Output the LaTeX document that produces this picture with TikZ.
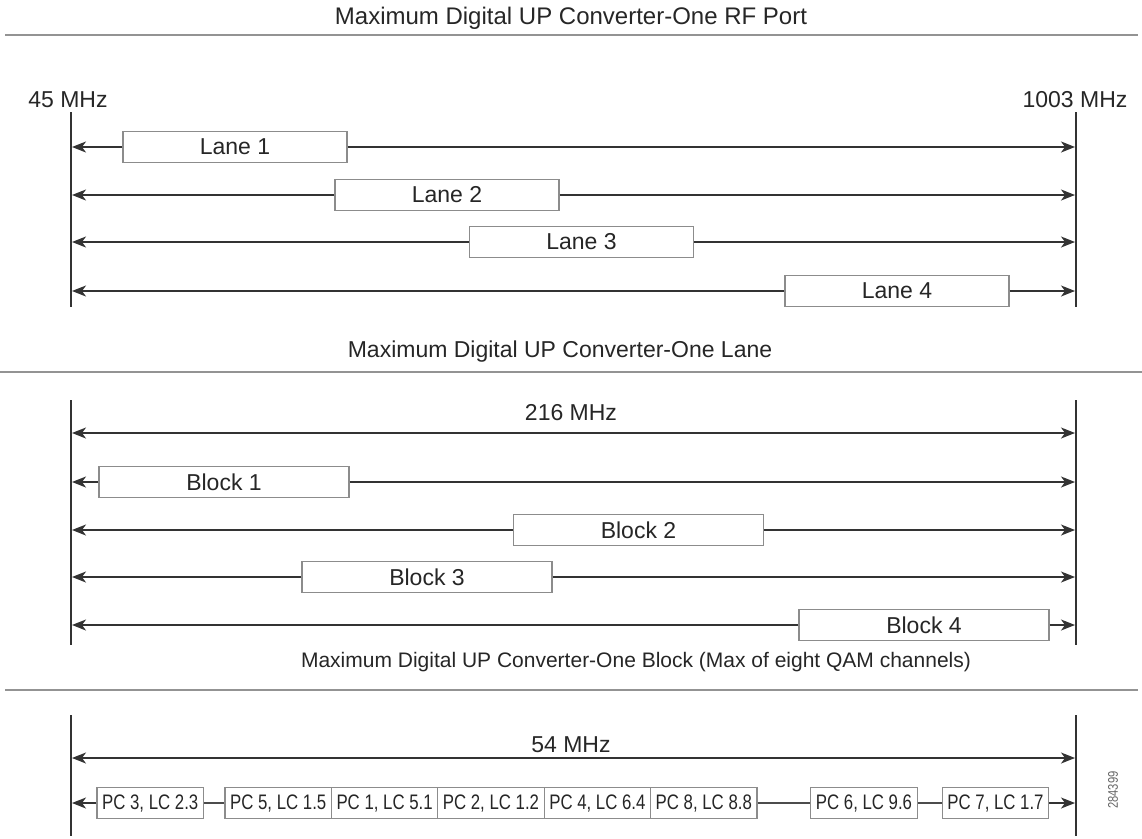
\documentclass[tikz,border=0pt]{standalone}
\usepackage{fontspec}
\setmainfont{Liberation Sans}
\newfontfamily\narrowfont[FakeStretch=0.8]{Liberation Sans}
\usepackage{tikz}
\usetikzlibrary{arrows.meta}

\begin{document}
\begin{tikzpicture}[
    x=1pt, y=-1pt,
    title/.style={font=\fontsize{23}{27}\selectfont, text=black!85},
    freq/.style={font=\fontsize{23}{27}\selectfont, text=black!85},
    rule/.style={draw=gray!85, line width=2.5pt},
    edge/.style={draw=black!80, line width=1.8pt},
    lane/.style={rectangle, draw=gray!90, fill=white, line width=1.2pt, inner sep=0pt, minimum width=224pt, minimum height=31pt, font=\fontsize{23}{27}\selectfont, text=black!85},
    block/.style={lane, minimum width=250pt},
    chan/.style={rectangle, draw=gray!90, fill=white, line width=1.2pt, inner sep=0pt, minimum width=106.4pt, minimum height=31pt, font=\narrowfont\fontsize{21}{25}\selectfont, text=black!85},
    arrow/.style={draw=black!80, line width=1.5pt, ->, >={Stealth[length=14pt, width=11pt, inset=4pt]}},
    link/.style={draw=black!70, line width=1.5pt}
]
\useasboundingbox (0,0) rectangle (1142,838);

% --- one RF port ---
\node[title, font=\fontsize{24}{28}\selectfont] (port_title) at (571,18) {Maximum Digital UP Converter-One RF Port};
\coordinate (port_rule_l) at (5,35);
\coordinate (port_rule_r) at (1138,35);
\draw[rule] (port_rule_l) -- (port_rule_r);

\node[freq] (f_low) at (68,100) {45 MHz};
\node[freq] (f_high) at (1075,100) {1003 MHz};
\coordinate (port_lt) at (71,112);
\coordinate (port_lb) at (71,307);
\coordinate (port_rt) at (1076,112);
\coordinate (port_rb) at (1076,307);
\draw[edge] (port_lt) -- (port_lb);
\draw[edge] (port_rt) -- (port_rb);

\node[lane] (lane1) at (235,147) {Lane 1};
\node[lane] (lane2) at (447,195) {Lane 2};
\node[lane] (lane3) at (581.5,242) {Lane 3};
\node[lane] (lane4) at (897,291) {Lane 4};

\coordinate (l1_l) at (72,147);  \coordinate (l1_r) at (1075,147);
\coordinate (l2_l) at (72,195);  \coordinate (l2_r) at (1075,195);
\coordinate (l3_l) at (72,242);  \coordinate (l3_r) at (1075,242);
\coordinate (l4_l) at (72,291);  \coordinate (l4_r) at (1075,291);

\draw[arrow] (lane1.west) -- (l1_l);
\draw[arrow] (lane1.east) -- (l1_r);
\draw[arrow] (lane2.west) -- (l2_l);
\draw[arrow] (lane2.east) -- (l2_r);
\draw[arrow] (lane3.west) -- (l3_l);
\draw[arrow] (lane3.east) -- (l3_r);
\draw[arrow] (lane4.west) -- (l4_l);
\draw[arrow] (lane4.east) -- (l4_r);

% --- one lane ---
\node[title] (lane_title) at (560,352) {Maximum Digital UP Converter-One Lane};
\coordinate (lane_rule_l) at (0,372);
\coordinate (lane_rule_r) at (1142,372);
\draw[rule] (lane_rule_l) -- (lane_rule_r);

\coordinate (lane_lt) at (71,400);
\coordinate (lane_lb) at (71,645);
\coordinate (lane_rt) at (1076,400);
\coordinate (lane_rb) at (1076,645);
\draw[edge] (lane_lt) -- (lane_lb);
\draw[edge] (lane_rt) -- (lane_rb);

\node[freq] (w_lane) at (571,413) {216 MHz};
\coordinate (wl_l) at (72,433);
\coordinate (wl_r) at (1075,433);
\draw[arrow, <->] (wl_l) -- (wl_r);

\node[block] (block1) at (224,482) {Block 1};
\node[block] (block2) at (638.5,530) {Block 2};
\node[block] (block3) at (427,577) {Block 3};
\node[block] (block4) at (924,625) {Block 4};

\coordinate (b1_l) at (72,482);  \coordinate (b1_r) at (1075,482);
\coordinate (b2_l) at (72,530);  \coordinate (b2_r) at (1075,530);
\coordinate (b3_l) at (72,577);  \coordinate (b3_r) at (1075,577);
\coordinate (b4_l) at (72,625);  \coordinate (b4_r) at (1075,625);

\draw[arrow] (block1.west) -- (b1_l);
\draw[arrow] (block1.east) -- (b1_r);
\draw[arrow] (block2.west) -- (b2_l);
\draw[arrow] (block2.east) -- (b2_r);
\draw[arrow] (block3.west) -- (b3_l);
\draw[arrow] (block3.east) -- (b3_r);
\draw[arrow] (block4.west) -- (b4_l);
\draw[arrow] (block4.east) -- (b4_r);

% --- one block ---
\node[title, font=\fontsize{21}{25}\selectfont] (block_title) at (636,662) {Maximum Digital UP Converter-One Block (Max of eight QAM channels)};
\coordinate (block_rule_l) at (5,690);
\coordinate (block_rule_r) at (1138,690);
\draw[rule] (block_rule_l) -- (block_rule_r);

\coordinate (block_lt) at (71,715);
\coordinate (block_lb) at (71,836);
\coordinate (block_rt) at (1076,715);
\coordinate (block_rb) at (1076,836);
\draw[edge] (block_lt) -- (block_lb);
\draw[edge] (block_rt) -- (block_rb);

\node[freq] (w_block) at (571,745) {54 MHz};
\coordinate (wb_l) at (72,758);
\coordinate (wb_r) at (1075,758);
\draw[arrow, <->] (wb_l) -- (wb_r);

\node[chan] (pc3) at (150.2,803) {PC 3, LC 2.3};
\node[chan] (pc5) at (278.2,803) {PC 5, LC 1.5};
\node[chan] (pc1) at (384.6,803) {PC 1, LC 5.1};
\node[chan] (pc2) at (491,803) {PC 2, LC 1.2};
\node[chan] (pc4) at (597.4,803) {PC 4, LC 6.4};
\node[chan] (pc8) at (703.8,803) {PC 8, LC 8.8};
\node[chan] (pc6) at (864,803) {PC 6, LC 9.6};
\node[chan] (pc7) at (995.5,803) {PC 7, LC 1.7};

\coordinate (ch_l) at (72,803);
\coordinate (ch_r) at (1075,803);
\draw[arrow] (pc3.west) -- (ch_l);
\draw[link] (pc3.east) -- (pc5.west);
\draw[link] (pc8.east) -- (pc6.west);
\draw[link] (pc6.east) -- (pc7.west);
\draw[arrow] (pc7.east) -- (ch_r);

\node[rotate=90, font=\narrowfont\fontsize{14}{16}\selectfont, text=black!60] (fig_id) at (1113,790) {284399};

\end{tikzpicture}
\end{document}
